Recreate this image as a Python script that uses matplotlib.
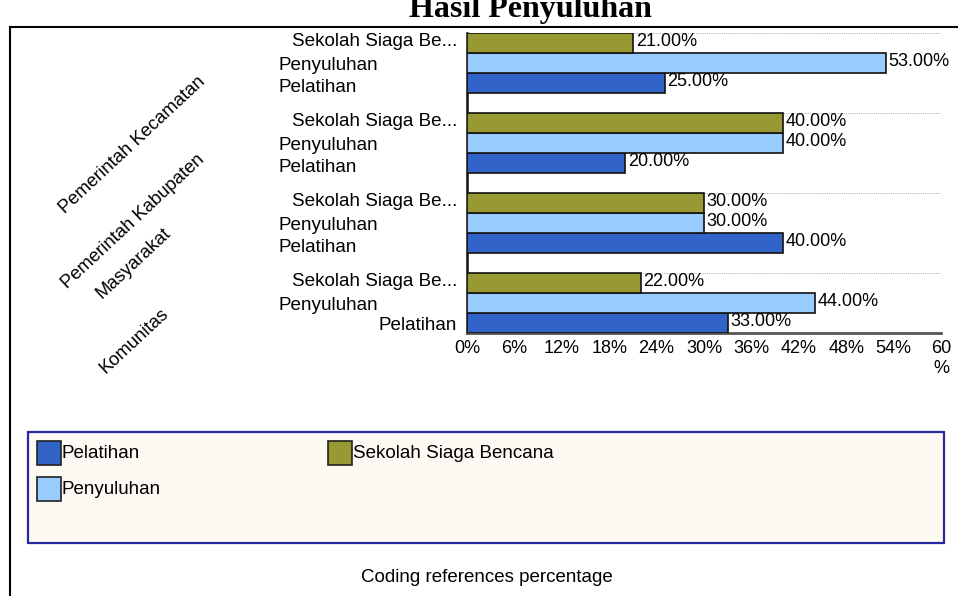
import matplotlib
matplotlib.use("Agg")
import matplotlib.pyplot as plt
from matplotlib.patches import Rectangle
from matplotlib.lines import Line2D
from matplotlib.transforms import blended_transform_factory
import numpy as np

plt.rcParams['font.family'] = ['Liberation Sans', 'DejaVu Sans']

# ---- data ----
groups = ["Pemerintah Kecamatan", "Pemerintah Kabupaten", "Masyarakat", "Komunitas"]
series = ["Pelatihan", "Penyuluhan", "Sekolah Siaga Bencana"]
short_labels = ["Pelatihan", "Penyuluhan", "Sekolah Siaga Be..."]
pelatihan = [25, 20, 40, 33]
penyuluhan = [53, 40, 30, 44]
sekolah = [21, 40, 30, 22]
xticks = [0, 6, 12, 18, 24, 30, 36, 42, 48, 54, 60]
xticklabels = ["0%", "6%", "12%", "18%", "24%", "30%", "36%", "42%", "48%", "54%", "60\n%"]
colors = ["#3264c8", "#99ccff", "#999933"]

W, H = 958, 596
fig = plt.figure(figsize=(W / 100, H / 100), dpi=100)

def fx(x):
    return x / W

def fy(y):
    return 1 - y / H

ax = fig.add_axes([fx(467), fy(333), fx(941) - fx(467), fy(33) - fy(333)])

values = [pelatihan, penyuluhan, sekolah]
ng = len(groups)
for si, vals in enumerate(values):
    ys = []
    for gi in range(ng):
        base = (ng - 1 - gi) * 4
        ys.append(base + si + 0.5)
    ax.barh(ys, vals, height=1.0, color=colors[si], edgecolor="#111111", linewidth=1.2, zorder=3)
    for y, v in zip(ys, vals):
        ax.text(v + 0.35, y + 0.05, f"{v:.2f}%", va="center", ha="left", fontsize=13, zorder=4)

ax.set_xlim(0, 60)
ax.set_ylim(0, ng * 4 - 1)
for gi in range(ng):
    top = (ng - 1 - gi) * 4 + 3
    ax.axhline(top, color="#aaaaaa", linestyle=(0, (1, 1.2)), linewidth=0.7, zorder=1)

ax.set_xticks(xticks)
ax.set_xticklabels(xticklabels, fontsize=13)
ax.tick_params(axis="x", length=0, pad=5)
ax.set_yticks([])
for s in ["top", "right"]:
    ax.spines[s].set_visible(False)
ax.spines["left"].set_color("#111111")
ax.spines["left"].set_linewidth(1.8)
ax.spines["bottom"].set_color("#555555")
ax.spines["bottom"].set_linewidth(2)

# category labels
tr = blended_transform_factory(ax.transAxes, ax.transData)
axw = 941 - 467
for gi in range(ng):
    base = (ng - 1 - gi) * 4
    last = gi == ng - 1
    ax.text(-10 / axw, base + 2.5 + 0.05, short_labels[2], transform=tr, ha="right", va="center", fontsize=13.6)
    ax.text((279 - 467) / axw, base + 1.5 - 0.12, short_labels[1], transform=tr, ha="left", va="center", fontsize=13.6)
    if last:
        ax.text(-10 / axw, base + 0.5 - 0.15, short_labels[0], transform=tr, ha="right", va="center", fontsize=13.6)
    else:
        ax.text((279 - 467) / axw, base + 0.5 - 0.2, short_labels[0], transform=tr, ha="left", va="center", fontsize=13.6)

# group labels (rotated)
group_label_pos = [(132, 145), (133, 222), (134, 263), (134, 341)]
for g, (px, py) in zip(groups, group_label_pos):
    fig.text(fx(px), fy(py), g, rotation=43, ha="center", va="center", fontsize=13.3)

# title (partially cut at top, as in the reference)
fig.text(fx(530), fy(17), "Hasil Penyuluhan", ha="center", va="baseline",
         fontsize=23, fontweight="bold", family=["Liberation Serif", "DejaVu Serif"])

# outer frame lines
fig.add_artist(Line2D([fx(9.5), fx(9.5)], [fy(27), fy(596)], color="black", lw=1.5, transform=fig.transFigure))
fig.add_artist(Line2D([fx(9.5), fx(958)], [fy(27), fy(27)], color="black", lw=1.5, transform=fig.transFigure))

# legend box
fig.add_artist(Rectangle((fx(28), fy(543)), fx(944) - fx(28), fy(432) - fy(543),
                         facecolor="#fdf9f3", edgecolor="#2828a0", lw=1.6, transform=fig.transFigure))
leg_pos = [(37, 441), (37, 477), (328, 441)]
for si, (lx, ly) in enumerate(leg_pos):
    fig.add_artist(Rectangle((fx(lx), fy(ly + 24)), fx(24), 24 / H,
                             facecolor=colors[si], edgecolor="#222222", lw=1.2, transform=fig.transFigure))
    fig.text(fx(lx + 25), fy(ly + 12), series[si], ha="left", va="center", fontsize=13.5)

fig.text(fx(487), fy(578), "Coding references percentage", ha="center", va="center", fontsize=13.5)

fig.savefig("out.png", dpi=100, facecolor="white")
